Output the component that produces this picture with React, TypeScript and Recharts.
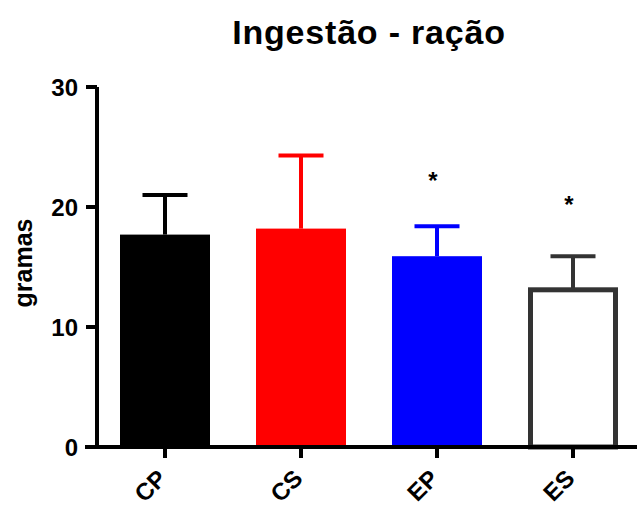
import React from 'react'
import {
    Bar,
    ComposedChart,
    Scatter,
    XAxis,
    YAxis,
} from 'recharts'

const GROUPS = ['CP', 'CS', 'EP', 'ES']
const MEANS = [17.7, 18.2, 15.9, 13.1]
const SEM = [3.3, 6.1, 2.5, 2.8]
const STARS = [null, null, 22.2, 20.2]
const FILLS = ['#000000', '#ff0000', '#0000ff', '#ffffff']
const EDGES = ['#000000', '#ff0000', '#0000ff', '#333333']
const Y_TICKS = [0, 10, 20, 30]

const DATA = GROUPS.map((g, i) => ({
    name: g,
    mean: MEANS[i],
    err: SEM[i],
    star: STARS[i],
    idx: i,
}))

const FONT = '"Liberation Sans", Arial, sans-serif'

function BarWithError(props: any) {
    const { x, y, width, height, payload } = props
    const i = payload.idx
    const perUnit = height / payload.mean
    const errTop = y - payload.err * perUnit
    const cx = x + width / 2
    const hollow = FILLS[i] === '#ffffff'
    const sw = 5
    return (
        <g>
            <line x1={cx} x2={cx} y1={y} y2={errTop} stroke={EDGES[i]} strokeWidth={4} />
            <line x1={cx - 22.5} x2={cx + 22.5} y1={errTop} y2={errTop} stroke={EDGES[i]} strokeWidth={4} />
            {hollow ? (
                <rect
                    x={x + sw / 2}
                    y={y}
                    width={width - sw}
                    height={height}
                    fill="#ffffff"
                    stroke={EDGES[i]}
                    strokeWidth={sw}
                />
            ) : (
                <rect x={x} y={y} width={width} height={height} fill={FILLS[i]} />
            )}
        </g>
    )
}

function Star(props: any) {
    const { cx, cy } = props
    if (cx == null || cy == null) return null
    return (
        <text
            x={cx - 4}
            y={cy}
            textAnchor="middle"
            dominantBaseline="central"
            fontFamily={FONT}
            fontWeight="bold"
            fontSize={24}
            fill="#000"
        >
            *
        </text>
    )
}

function XTick(props: any) {
    const { x, payload } = props
    const ax = x + 3
    const ay = 447 + 33
    return (
        <text
            x={ax}
            y={ay}
            transform={`rotate(-45, ${ax}, ${ay})`}
            textAnchor="end"
            fontFamily={FONT}
            fontWeight="bold"
            fontSize={24}
            fill="#000"
        >
            {payload.value}
        </text>
    )
}

function YLabel() {
    return (
        <text
            x={32}
            y={263}
            transform="rotate(-90, 32, 263)"
            textAnchor="middle"
            fontFamily={FONT}
            fontWeight="bold"
            fontSize={25}
            fill="#000"
        >
            gramas
        </text>
    )
}

export default function App() {
    return (
        <div
            style={{
                position: 'absolute',
                left: 0,
                top: 0,
                width: 637,
                height: 507,
                overflow: 'hidden',
                background: '#fff',
            }}
        >
            <div
                style={{
                    position: 'absolute',
                    left: 97,
                    width: 544,
                    top: 9,
                    textAlign: 'center',
                    fontFamily: FONT,
                    fontWeight: 'bold',
                    fontSize: 34,
                    letterSpacing: 0.8,
                    lineHeight: '46px',
                    color: '#000',
                }}
            >
                Ingestão - ração
            </div>
            <ComposedChart
                width={645}
                height={507}
                data={DATA}
                margin={{ top: 87, right: 4, left: 0, bottom: 0 }}
            >
                <XAxis
                    dataKey="name"
                    height={60}
                    axisLine={{ stroke: '#000', strokeWidth: 4 }}
                    tickLine={{ stroke: '#000', strokeWidth: 4 }}
                    tickSize={11}
                    tick={<XTick />}
                    interval={0}
                />
                <YAxis
                    width={97}
                    domain={[0, 30]}
                    ticks={Y_TICKS}
                    axisLine={{ stroke: '#000', strokeWidth: 4 }}
                    tickLine={{ stroke: '#000', strokeWidth: 4 }}
                    tickSize={11}
                    tickMargin={8}
                    tick={{ fontFamily: FONT, fontWeight: 'bold', fontSize: 24, fill: '#000' }}
                    label={<YLabel />}
                />
                <Bar
                    dataKey="mean"
                    barSize={90}
                    shape={<BarWithError />}
                    isAnimationActive={false}
                />
                <Scatter dataKey="star" shape={<Star />} isAnimationActive={false} />
            </ComposedChart>
            <div
                style={{
                    position: 'absolute',
                    left: 85,
                    top: 445,
                    width: 12,
                    height: 4,
                    background: '#000',
                }}
            />
        </div>
    )
}
